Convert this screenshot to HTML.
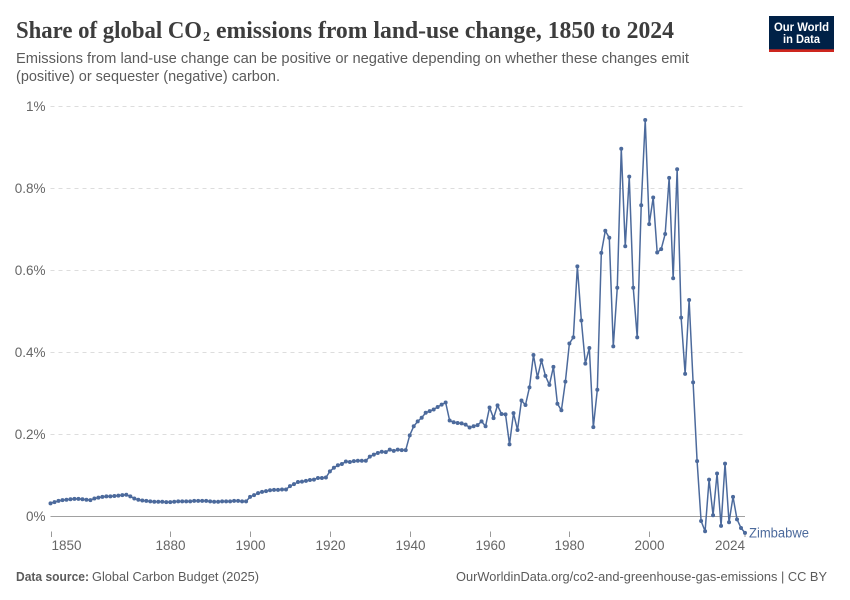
<!DOCTYPE html>
<html lang="en">
<head>
<meta charset="utf-8">
<title>Share of global CO2 emissions from land-use change, 1850 to 2024</title>
<style>
html,body{margin:0;padding:0;background:#fff;width:850px;height:600px;overflow:hidden}
svg{display:block}
text{font-family:"Liberation Sans",sans-serif}
</style>
</head>
<body>
<svg id="chart" width="850" height="600" viewBox="0 0 850 600" xmlns="http://www.w3.org/2000/svg">
  <rect width="850" height="600" fill="#fff"/>
  <text y="38" font-size="24" font-weight="700" fill="#3d3d3d" style='font-family:"Liberation Serif",serif'><tspan x="16" textLength="186" lengthAdjust="spacingAndGlyphs">Share of global CO</tspan><tspan x="203" y="41" font-size="14" textLength="7" lengthAdjust="spacingAndGlyphs">2</tspan><tspan x="216" y="38" textLength="458" lengthAdjust="spacingAndGlyphs">emissions from land-use change, 1850 to 2024</tspan></text>
  <text x="16" y="63" font-size="15" fill="#5b5b5b" textLength="673" lengthAdjust="spacingAndGlyphs">Emissions from land-use change can be positive or negative depending on whether these changes emit</text>
  <text x="16" y="81" font-size="15" fill="#5b5b5b" textLength="264" lengthAdjust="spacingAndGlyphs">(positive) or sequester (negative) carbon.</text>
  <g>
    <rect x="769" y="16" width="65" height="36" fill="#002147"/>
    <rect x="769" y="49.3" width="65" height="2.7" fill="#ce261e"/>
    <text x="801.5" y="31" font-size="12" font-weight="700" fill="#fff" text-anchor="middle" textLength="55" lengthAdjust="spacingAndGlyphs">Our World</text>
    <text x="801.5" y="43" font-size="12" font-weight="700" fill="#fff" text-anchor="middle" textLength="37" lengthAdjust="spacingAndGlyphs">in Data</text>
  </g>
  <g id="grid"></g>
  <g id="yaxis"></g>
  <g id="xaxis"></g>
  <g id="series"></g>
  <text id="series-label" font-size="13.5" fill="#4c6a9c" textLength="60" lengthAdjust="spacingAndGlyphs">Zimbabwe</text>
  <text x="16" y="581" font-size="13" fill="#5b5b5b"><tspan font-weight="700" textLength="73" lengthAdjust="spacingAndGlyphs">Data source:</tspan><tspan x="92" textLength="167" lengthAdjust="spacingAndGlyphs">Global Carbon Budget (2025)</tspan></text>
  <text x="456" y="581" font-size="13" fill="#5b5b5b" textLength="371" lengthAdjust="spacingAndGlyphs">OurWorldinData.org/co2-and-greenhouse-gas-emissions | CC BY</text>
</svg>
<script>
const startYear = 1850;
const shareValues = [
  0.032,0.035,0.038,0.040,0.041,0.042,0.043,0.043,0.042,0.041,
  0.040,0.044,0.046,0.048,0.049,0.049,0.050,0.051,0.052,0.053,
  0.049,0.044,0.041,0.039,0.038,0.037,0.036,0.036,0.036,0.035,
  0.035,0.036,0.037,0.037,0.037,0.037,0.038,0.038,0.038,0.038,
  0.037,0.036,0.036,0.037,0.037,0.037,0.038,0.038,0.037,0.037,
  0.048,0.052,0.057,0.060,0.062,0.064,0.065,0.065,0.066,0.066,
  0.074,0.079,0.084,0.085,0.087,0.089,0.090,0.094,0.094,0.095,
  0.110,0.119,0.125,0.128,0.134,0.133,0.135,0.136,0.136,0.136,
  0.146,0.151,0.155,0.158,0.157,0.163,0.160,0.163,0.162,0.162,
  0.198,0.220,0.232,0.241,0.253,0.257,0.261,0.267,0.273,0.278,
  0.234,0.230,0.228,0.227,0.224,0.217,0.220,0.223,0.232,0.220,
  0.266,0.240,0.271,0.250,0.249,0.176,0.252,0.211,0.283,0.272,
  0.315,0.394,0.339,0.381,0.343,0.321,0.365,0.275,0.259,0.329,
  0.422,0.437,0.610,0.478,0.373,0.411,0.218,0.309,0.643,0.697,
  0.680,0.415,0.558,0.897,0.659,0.829,0.558,0.437,0.759,0.967,
  0.713,0.778,0.644,0.652,0.689,0.826,0.581,0.847,0.485,0.348,
  0.528,0.327,0.135,-0.011,-0.036,0.090,0.003,0.105,-0.023,0.129,
  -0.014,0.048,-0.007,-0.028,-0.040
];
const yTickValues = [0, 0.2, 0.4, 0.6, 0.8, 1];
const yTickLabels = ["0%", "0.2%", "0.4%", "0.6%", "0.8%", "1%"];
const xTickYears = [1850, 1880, 1900, 1920, 1940, 1960, 1980, 2000, 2024];
const seriesName = "Zimbabwe";

const NS = "http://www.w3.org/2000/svg";
const endYear = startYear + shareValues.length - 1;
const plot = { left: 50.5, right: 745, zero: 516.5, top: 106.5 };
function xScale(year) {
  return plot.left + (year - startYear) / (2024 - startYear) * (plot.right - plot.left);
}
function yScale(value) {
  return plot.zero - value * (plot.zero - plot.top);
}
function make(tag, attrs, parent) {
  const el = document.createElementNS(NS, tag);
  for (const k in attrs) el.setAttribute(k, attrs[k]);
  parent.appendChild(el);
  return el;
}
const grid = document.getElementById("grid");
const yaxis = document.getElementById("yaxis");
const xaxis = document.getElementById("xaxis");
const series = document.getElementById("series");

yTickValues.forEach(function (v, i) {
  const y = yScale(v);
  const line = make("line", { x1: plot.left, x2: plot.right, y1: y, y2: y,
    stroke: v === 0 ? "#a1a1a1" : "#dddddd",
    "stroke-width": 1,
    "stroke-dasharray": v === 0 ? "none" : "4,4" }, grid);
  
  
  const label = make("text", { x: 45.5, y: y + 4.7, "font-size": 13.5, fill: "#666666", "text-anchor": "end" }, yaxis);
  
  
  label.textContent = yTickLabels[i];
});

xTickYears.forEach(function (year) {
  const x = Math.round(xScale(year)) + 0.5;
  const tx = year === 2024 ? plot.right : x;
  const tick = make("line", { x1: tx, x2: tx, y1: 531.5, y2: 537, stroke: "#999999", "stroke-width": 1 }, xaxis);
  
  
  const anchor = year === startYear ? "start" : (year === 2024 ? "end" : "middle");
  const lx = year === startYear ? plot.left + 1 : tx;
  const label = make("text", { x: lx, y: 550, "font-size": 13.5, fill: "#666666", "text-anchor": anchor }, xaxis);
  
  
  label.textContent = String(year);
});

const pts = shareValues.map(function (v, i) {
  return xScale(startYear + i).toFixed(2) + "," + yScale(v).toFixed(2);
});
const path = make("polyline", { points: pts.join(" "), fill: "none", stroke: "#4c6a9c", "stroke-width": 1.5, "stroke-linejoin": "round" }, series);


shareValues.forEach(function (v, i) {
  const dot = make("circle", { cx: xScale(startYear + i), cy: yScale(v), r: 2, fill: "#4c6a9c" }, series);
  
  
});

const seriesLabel = document.getElementById("series-label");
seriesLabel.setAttribute("x", xScale(endYear) + 4);
seriesLabel.setAttribute("y", yScale(shareValues[shareValues.length - 1]) + 4.5);
seriesLabel.textContent = seriesName;
</script>
</body>
</html>
